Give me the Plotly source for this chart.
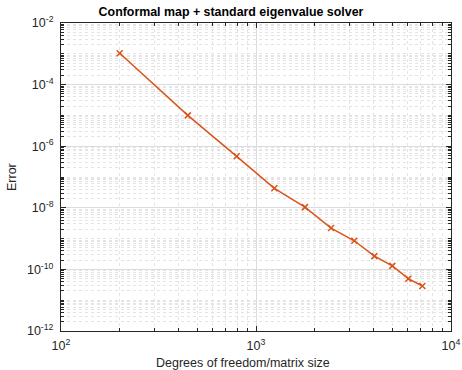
import plotly.graph_objects as go

dof = [200, 447, 796, 1242, 1783, 2426, 3192, 4047, 5000, 6040, 7130]
err = [1.04e-3, 1.0e-5, 4.7e-7, 4.3e-8, 1.05e-8, 2.2e-9, 8.5e-10, 2.7e-10, 1.3e-10, 5.0e-11, 2.9e-11]

x_ticks = [1e2, 1e3, 1e4]
x_ticktext = ["10<sup>2</sup>", "10<sup>3</sup>", "10<sup>4</sup>"]
y_ticks = [1e-12, 1e-10, 1e-8, 1e-6, 1e-4, 1e-2]
y_ticktext = ["10<sup>-12</sup>", "10<sup>-10</sup>", "10<sup>-8</sup>", "10<sup>-6</sup>", "10<sup>-4</sup>", "10<sup>-2</sup>"]

title_text = "Conformal map + standard eigenvalue solver"
x_title = "Degrees of freedom/matrix size"
y_title = "Error"

x_minor = [m * 10 ** k for k in (2, 3) for m in range(2, 10)]
y_minor = [m * 10.0 ** k for k in range(-12, -2) for m in range(1, 10) if not (m == 1 and k % 2 == 0)]

FONT = "Liberation Sans, Arial, Helvetica, sans-serif"
AX = "#262626"
W, H = 462, 370
L, R, T, B = 61, 11, 23, 39
PW, PH = W - L - R, H - T - B

fig = go.Figure()
fig.add_trace(go.Scatter(
    x=dof, y=err, mode="lines+markers",
    line=dict(color="#D95319", width=1.5),
    marker=dict(symbol="x-thin", size=6, line=dict(color="#D95319", width=1.5), color="#D95319"),
    showlegend=False,
))

common = dict(
    showline=True, linecolor=AX, linewidth=1, mirror="allticks",
    ticks="inside", ticklen=5, tickcolor=AX, tickwidth=1,
    showgrid=True, gridcolor="#dcdcdc", gridwidth=1,
    zeroline=False, automargin=False,
    tickfont=dict(family=FONT, size=12.5, color=AX),
)

minor_common = dict(ticks="inside", ticklen=3, tickcolor=AX,
                    showgrid=True, gridcolor="#e4e4e4", griddash="dot", gridwidth=1)

fig.update_layout(
    width=W, height=H,
    margin=dict(l=L, r=R, t=T, b=B, autoexpand=False),
    paper_bgcolor="white", plot_bgcolor="white",
    title=dict(text="<b>" + title_text + "</b>", x=231 / W, xref="container", xanchor="center",
               y=1 - 12 / H, yref="container", yanchor="middle",
               font=dict(family=FONT, size=12.4, color="black")),
    xaxis=dict(type="log", range=[2, 4], tickvals=x_ticks, ticktext=x_ticktext,
               ticklabelstandoff=3,
               minor=dict(tickvals=x_minor, **minor_common),
               **common),
    yaxis=dict(type="log", range=[-12, -2], tickvals=y_ticks, ticktext=y_ticktext,
               ticklabelstandoff=4,
               minor=dict(tickvals=y_minor, **minor_common),
               **common),
    annotations=[
        dict(text=x_title, xref="paper", yref="paper",
             x=(243 - L) / PW, y=(H - B - 363) / PH, xanchor="center", yanchor="middle",
             showarrow=False, font=dict(family=FONT, size=12.5, color=AX)),
        dict(text=y_title, xref="paper", yref="paper", textangle=-90,
             x=(12 - L) / PW, y=(H - B - 177) / PH, xanchor="center", yanchor="middle",
             showarrow=False, font=dict(family=FONT, size=12.5, color=AX)),
    ],
)

fig.write_html("out.html")
